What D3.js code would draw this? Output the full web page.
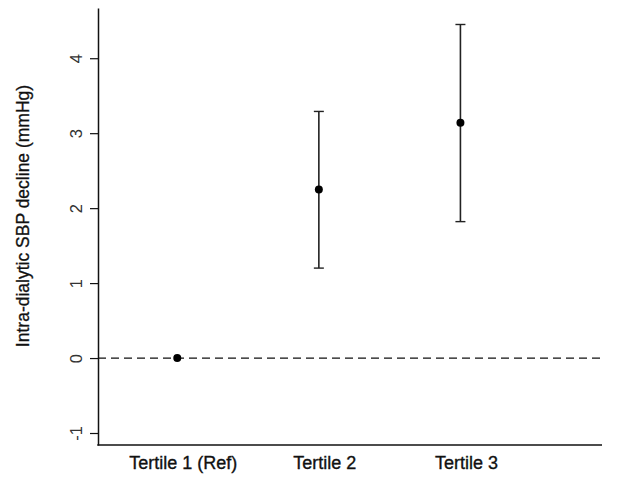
<!DOCTYPE html>
<html><head><meta charset="utf-8">
<script src="https://cdn.jsdelivr.net/npm/d3@7"></script>
<style>
body{margin:0;background:#fff;}
svg{display:block;font-family:"Liberation Sans",Arial,sans-serif;}
</style></head>
<body><svg id="c" width="621" height="483"></svg>
<script>
const categories = ["Tertile 1 (Ref)", "Tertile 2", "Tertile 3"];
const estimates = [0, 2.25, 3.14];
const lowerCI = [null, 1.20, 1.82];
const upperCI = [null, 3.29, 4.45];
const yTicks = [-1, 0, 1, 2, 3, 4];
const yTitle = "Intra-dialytic SBP decline (mmHg)";

const svg = d3.select("#c");
const x = d3.scaleLinear().domain([0.44, 4.0]).range([98, 602]);
const y = d3.scaleLinear().domain([-1.16, 4.67]).range([445, 8]);
const pos = categories.map((c, i) => i + 1);

// reference line at 0
svg.append("line")
  .attr("x1", x(0.44)).attr("x2", x(4.0))
  .attr("y1", y(0)).attr("y2", y(0))
  .attr("stroke", "#111").attr("stroke-width", 1.3)
  .attr("stroke-dasharray", "8,5");

// y axis
const yAxis = d3.axisLeft(y).tickValues(yTicks).tickSize(8).tickSizeOuter(0).tickFormat(d => String(d));
const ga = svg.append("g").attr("transform", `translate(${x(0.44)},0)`).call(yAxis);
ga.select(".domain").attr("stroke", "#111").attr("stroke-width", 1.5);
ga.selectAll(".tick line").attr("stroke", "#111").attr("stroke-width", 1.2);
ga.selectAll(".tick text")
  .attr("x", 0).attr("dy", null)
  .attr("transform", "translate(-16,0) rotate(-90)")
  .attr("text-anchor", "middle")
  .attr("font-size", 16.5).attr("fill", "#333")
  .style("font-family", "'Liberation Sans', Arial, sans-serif");

// x axis line
svg.append("line")
  .attr("x1", x(0.44) - 0.75).attr("x2", x(4.0))
  .attr("y1", y(-1.16)).attr("y2", y(-1.16))
  .attr("stroke", "#111").attr("stroke-width", 1.5);

// x labels
svg.selectAll(".xl").data(categories).enter().append("text")
  .attr("class", "xl")
  .attr("x", (d, i) => x(pos[i]) + 6)
  .attr("y", 469)
  .attr("text-anchor", "middle")
  .attr("font-size", 18).attr("fill", "#111")
  .attr("stroke", "#111").attr("stroke-width", 0.35)
  .text(d => d);

// y title
svg.append("text")
  .attr("transform", `translate(29,216) rotate(-90)`)
  .attr("text-anchor", "middle")
  .attr("font-size", 17.5).attr("fill", "#111")
  .attr("stroke", "#111").attr("stroke-width", 0.3)
  .text(yTitle);

// error bars
const eb = categories.map((c, i) => ({i, lo: lowerCI[i], hi: upperCI[i]})).filter(d => d.lo !== null);
svg.selectAll(".eb").data(eb).enter().append("line")
  .attr("x1", d => x(pos[d.i])).attr("x2", d => x(pos[d.i]))
  .attr("y1", d => y(d.lo)).attr("y2", d => y(d.hi))
  .attr("stroke", "#222").attr("stroke-width", 1.6);
["lo", "hi"].forEach(k => {
  svg.selectAll(".cap" + k).data(eb).enter().append("line")
    .attr("x1", d => x(pos[d.i]) - 5).attr("x2", d => x(pos[d.i]) + 5)
    .attr("y1", d => y(d[k])).attr("y2", d => y(d[k]))
    .attr("stroke", "#222").attr("stroke-width", 1.4);
});

// points
svg.selectAll(".pt").data(estimates).enter().append("circle")
  .attr("cx", (d, i) => x(pos[i])).attr("cy", d => y(d))
  .attr("r", 4).attr("fill", "#000");
</script></body></html>
